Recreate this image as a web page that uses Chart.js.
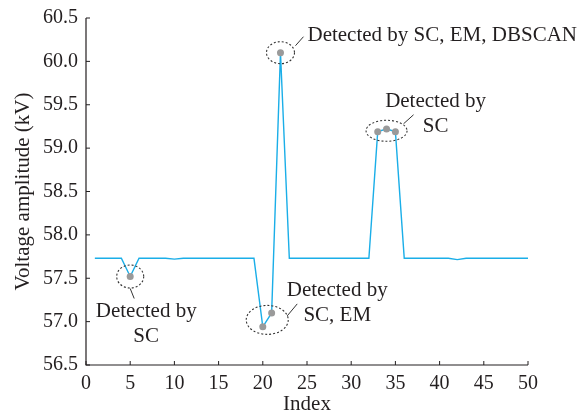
<!DOCTYPE html>
<html><head><meta charset="utf-8">
<script src="https://cdn.jsdelivr.net/npm/chart.js@4"></script>
<style>html,body{margin:0;padding:0;background:#fff}#wrap{width:581px;height:417px}</style>
</head><body><div id="wrap"><canvas id="c" width="581" height="417"></canvas></div>
<script>
const indices = [1,2,3,4,5,6,7,8,9,10,11,12,13,14,15,16,17,18,19,20,21,22,23,24,25,26,27,28,29,30,31,32,33,34,35,36,37,38,39,40,41,42,43,44,45,46,47,48,49,50];
const voltage = [57.73,57.73,57.73,57.73,57.52,57.73,57.73,57.73,57.73,57.72,57.73,57.73,57.73,57.73,57.73,57.73,57.73,57.73,57.73,56.94,57.10,60.10,57.73,57.73,57.73,57.73,57.73,57.73,57.73,57.73,57.73,57.73,59.19,59.22,59.19,57.73,57.73,57.73,57.73,57.73,57.73,57.715,57.73,57.73,57.73,57.73,57.73,57.73,57.73,57.73];
const detectedIdx = [5,20,21,22,33,34,35];
const xTicks = [0,5,10,15,20,25,30,35,40,45,50];
const yTicks = [56.5,57.0,57.5,58.0,58.5,59.0,59.5,60.0,60.5];
const annotations = [
  {cx:5, cy:57.52, rx:13.5, ry:11.5, line:[0,12,4,22], lines:["Detected by","SC"], tx:16, ty:35, align:'center'},
  {cx:20.5, cy:57.02, rx:21, ry:14.5, line:[20,-4,30,-16], lines:["Detected by","SC, EM"], tx:70, ty:-29, align:'center'},
  {cx:22, cy:60.10, rx:14, ry:11, line:[15,-7,23,-16], lines:["Detected by SC, EM, DBSCAN"], tx:27, ty:-17, align:'left'},
  {cx:34, cy:59.20, rx:20.5, ry:10.5, line:[17,-7,27,-16], lines:["Detected by","SC"], tx:49, ty:-29, align:'center'}
];
const FONT = "'Liberation Serif','Times New Roman',serif";
const TXT = '#231f20';

const pts = indices.map((x,i)=>({x:x,y:voltage[i]}));
const radii = indices.map(x=>detectedIdx.includes(x)?3.5:0);

const decor = {
  id:'decor',
  afterDatasetsDraw(chart){
    const ctx=chart.ctx, xs=chart.scales.x, ys=chart.scales.y, a=chart.chartArea;
    ctx.save();
    ctx.strokeStyle=TXT; ctx.lineWidth=1.2;
    ctx.beginPath(); ctx.moveTo(a.left,a.top); ctx.lineTo(a.left,a.bottom); ctx.lineTo(a.right,a.bottom); ctx.stroke();
    ctx.lineWidth=1;
    xTicks.forEach(v=>{const px=xs.getPixelForValue(v); ctx.beginPath(); ctx.moveTo(px,a.bottom); ctx.lineTo(px,a.bottom-4); ctx.stroke();});
    yTicks.forEach(v=>{const py=ys.getPixelForValue(v); ctx.beginPath(); ctx.moveTo(a.left,py); ctx.lineTo(a.left+4,py); ctx.stroke();});
    annotations.forEach(an=>{
      const cx=xs.getPixelForValue(an.cx), cy=ys.getPixelForValue(an.cy);
      ctx.strokeStyle='#333'; ctx.lineWidth=1.1; ctx.setLineDash([2,2]);
      ctx.beginPath(); ctx.ellipse(cx,cy,an.rx,an.ry,0,0,Math.PI*2); ctx.stroke();
      ctx.setLineDash([]); ctx.lineWidth=1;
      ctx.beginPath(); ctx.moveTo(cx+an.line[0],cy+an.line[1]); ctx.lineTo(cx+an.line[2],cy+an.line[3]); ctx.stroke();
      ctx.fillStyle=TXT; ctx.font="21px "+FONT; ctx.textAlign=an.align; ctx.textBaseline='middle';
      an.lines.forEach((t,i)=>ctx.fillText(t,cx+an.tx,cy+an.ty+i*25));
    });
    ctx.restore();
  }
};

new Chart(document.getElementById('c'),{
  type:'line',
  data:{datasets:[{data:pts,borderColor:'#1aaee8',borderWidth:1.4,pointRadius:radii,pointBackgroundColor:'#9a9a9a',pointBorderWidth:0,pointHoverRadius:radii,tension:0}]},
  plugins:[decor],
  options:{
    responsive:false,animation:false,
    layout:{padding:{top:17,right:53,left:0,bottom:0}},
    plugins:{legend:{display:false},tooltip:{enabled:false}},
    scales:{
      x:{type:'linear',min:0,max:50,
        afterBuildTicks(s){s.ticks=xTicks.map(v=>({value:v}));},
        afterFit(s){s.height=52;},
        grid:{display:false,drawTicks:false},border:{display:false},
        ticks:{color:TXT,font:{family:FONT,size:20},padding:7,maxRotation:0,autoSkip:false},
        title:{display:true,text:'Index',color:TXT,font:{family:FONT,size:21},padding:{top:3,bottom:0}}
      },
      y:{min:56.5,max:60.5,
        afterBuildTicks(s){s.ticks=yTicks.map(v=>({value:v}));},
        afterFit(s){s.width=86;},
        grid:{display:false,drawTicks:false},border:{display:false},
        ticks:{color:TXT,font:{family:FONT,size:20,lineHeight:1},padding:8,autoSkip:false,callback:v=>Number(v).toFixed(1)},
        title:{display:true,text:'Voltage amplitude (kV)',color:TXT,font:{family:FONT,size:21},padding:{top:11,bottom:4}}
      }
    }
  }
});
</script></body></html>
